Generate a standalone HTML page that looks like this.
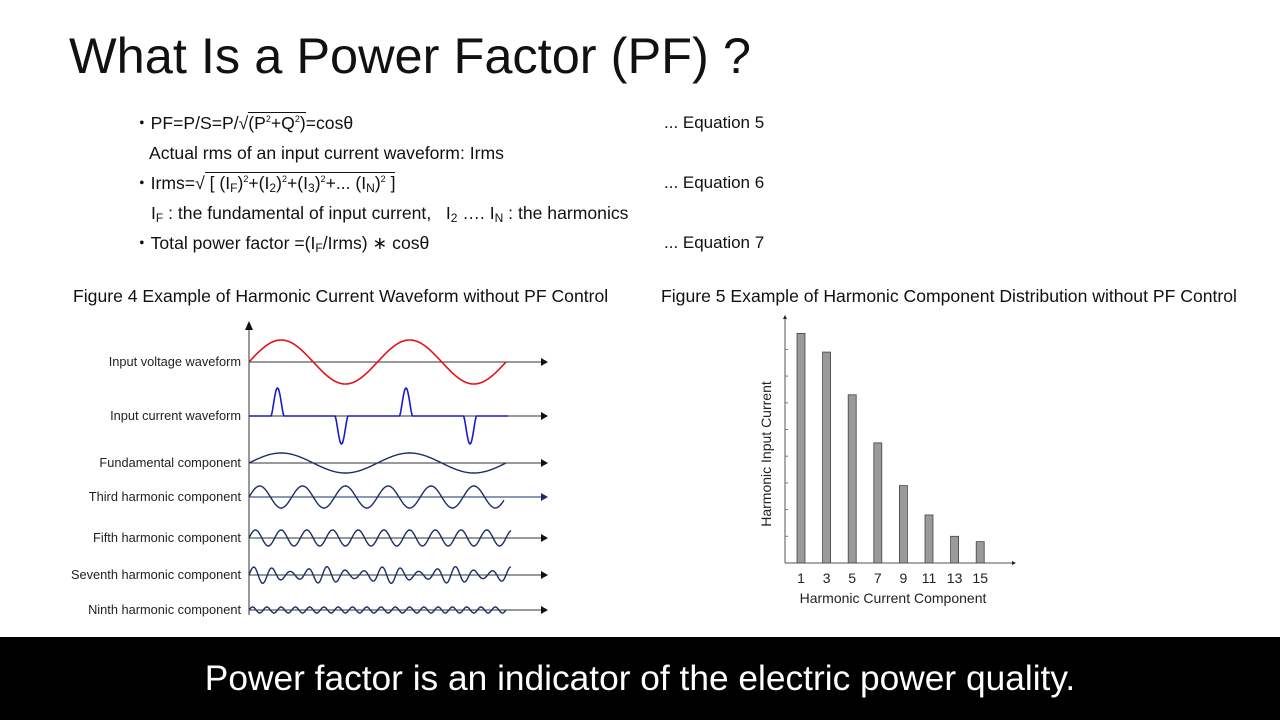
<!DOCTYPE html>
<html><head><meta charset="utf-8"><style>
body{margin:0;width:1280px;height:720px;background:#fff;overflow:hidden;position:relative;font-family:"Liberation Sans",Arial,sans-serif;color:#111}
.t{position:absolute;white-space:nowrap}
.eq{font-size:17.6px;line-height:20px;height:20px}
sub{font-size:12px;vertical-align:-3px;line-height:0}
sup{font-size:9px;vertical-align:7px;line-height:0}
.ov{border-top:1px solid #111}
</style></head><body>
<div class="t" style="left:69px;top:26px;font-size:50.5px;">What Is a Power Factor (PF) ?</div>

<div class="t eq" style="left:133px;top:113px;">・PF=P/S=P/√<span class="ov">(P<sup>2</sup>+Q<sup>2</sup>)</span>=cosθ</div>
<div class="t eq" style="left:664px;top:113px;font-size:17px">... Equation 5</div>
<div class="t eq" style="left:149px;top:143px;">Actual rms of an input current waveform: Irms</div>
<div class="t eq" style="left:133px;top:173px;">・Irms=√<span class="ov"> [ (I<sub>F</sub>)<sup>2</sup>+(I<sub>2</sub>)<sup>2</sup>+(I<sub>3</sub>)<sup>2</sup>+... (I<sub>N</sub>)<sup>2</sup> ]</span></div>
<div class="t eq" style="left:664px;top:173px;font-size:17px">... Equation 6</div>
<div class="t eq" style="left:151px;top:203px;">I<sub>F</sub> : the fundamental of input current, &nbsp; I<sub>2</sub> …. I<sub>N</sub> : the harmonics</div>
<div class="t eq" style="left:133px;top:233px;">・Total power factor =(I<sub>F</sub>/Irms) ∗ cosθ</div>
<div class="t eq" style="left:664px;top:233px;font-size:17px">... Equation 7</div>

<div class="t eq" style="left:73px;top:286px;">Figure 4 Example of Harmonic Current Waveform without PF Control</div>
<div class="t eq" style="left:661px;top:286px;">Figure 5 Example of Harmonic Component Distribution without PF Control</div>

<svg id="wf" style="position:absolute;left:0;top:0" width="640" height="636"></svg>
<svg id="bc" style="position:absolute;top:0;left:640px" width="640" height="636"></svg>

<div style="position:absolute;left:0;top:637px;width:1280px;height:83px;background:#000"></div>
<div class="t" style="left:0;width:1280px;text-align:center;top:659px;font-size:35.3px;color:#fff;">Power factor is an indicator of the electric power quality.</div>

<script>
const NS="http://www.w3.org/2000/svg";
// Waveform chart data
const rowLabels=["Input voltage waveform","Input current waveform","Fundamental component","Third harmonic component","Fifth harmonic component","Seventh harmonic component","Ninth harmonic component"];
const rowOrders=[1,0,1,3,5,7,9];
const rowAmps=[22,28,10,11,8,8,3];
const rowColors=["#e0141a","#1a1acc","#1a2f66","#1a2f66","#1a2f66","#1a2f66","#1a2f66"];
const rowBase=[362,416,463,497,538,575,610];
const rowEnd=[506,508,506,504,511,511,506];
// Bar chart data
const barCats=["1","3","5","7","9","11","13","15"];
const barVals=[8.6,7.9,6.3,4.5,2.9,1.8,1.0,0.8];

function mk(p,tag,at){const e=document.createElementNS(NS,tag);for(const k in at)e.setAttribute(k,at[k]);p.appendChild(e);return e;}
const wf=document.getElementById('wf');
const X0=249,PER=128.5,AX1=548;
const yax=mk(wf,'line',{x1:X0,y1:615,x2:X0,y2:328,stroke:'#333','stroke-width':1});


mk(wf,'polygon',{points:`${X0-4},330 ${X0+4},330 ${X0},321`,fill:'#111'});
rowLabels.forEach((lab,i)=>{
  const b=rowBase[i];
  const ax=mk(wf,'line',{x1:X0,y1:b,x2:AX1-6,y2:b,stroke:i==3?'#1a2f66':'#333','stroke-width':1});
  
  
  mk(wf,'polygon',{points:`${AX1-7},${b-4} ${AX1-7},${b+4} ${AX1},${b}`,fill:i==3?'#1a2f66':'#111'});
  const t=mk(wf,'text',{x:241,y:b+4,'text-anchor':'end','font-size':12.8,fill:'#222','font-family':'Liberation Sans, sans-serif'});
  t.textContent=lab;
  
  
  let d='';
  const A=rowAmps[i],n=rowOrders[i];
  for(let x=X0;x<=rowEnd[i];x+=0.5){
    const ph=(x-X0)/PER*2*Math.PI;
    let y;
    if(n===0){
      const c=((x-X0)%PER+PER)%PER;
      const pulse=(c0,w)=>{const u=(c-c0)/w;return (u>=0&&u<=1)?Math.sin(Math.PI*u)**1.5:0;};
      y=b-A*pulse(22,13)+A*pulse(86,13);
    } else if(n===7){
      y=b-A*Math.sin(n*ph)*(0.75+0.3*Math.sin(ph*2+0.5));
    } else y=b-A*Math.sin(n*ph);
    d+=(d?'L':'M')+x.toFixed(1)+','+y.toFixed(1);
  }
  const p=mk(wf,'path',{d:d,fill:'none',stroke:rowColors[i],'stroke-width':i<2?1.6:1.4});
  
  
});

// Bar chart (svg offset 640)
const bc=document.getElementById('bc');
const BX0=785-640,BY0=563,BYT=316,UNIT=26.7,BXS=801-640,BSTEP=25.6,BW=8;
const yv=v=>BY0-v*UNIT, xv=i=>BXS+i*BSTEP;
mk(bc,'line',{x1:BX0,y1:BY0,x2:BX0,y2:BYT,stroke:'#555','stroke-width':1});
mk(bc,'line',{x1:BX0,y1:BY0,x2:1014-640,y2:BY0,stroke:'#555','stroke-width':1});
mk(bc,'polygon',{points:`${1012-640},${BY0-2} ${1012-640},${BY0+2} ${1016-640},${BY0}`,fill:'#222'});
mk(bc,'polygon',{points:`${BX0-2},${BYT+3} ${BX0+2},${BYT+3} ${BX0},${BYT-1}`,fill:'#222'});
for(let k=1;k<=8;k++){mk(bc,'line',{x1:BX0,y1:yv(k),x2:BX0+3,y2:yv(k),stroke:'#777','stroke-width':1});}
barCats.forEach((c,i)=>{
  const r=mk(bc,'rect',{x:xv(i)-BW/2,y:yv(barVals[i]),width:BW,height:BY0-yv(barVals[i]),fill:'#9a9a9a',stroke:'#444','stroke-width':0.8});
  
  
  const t=mk(bc,'text',{x:xv(i),y:583,'text-anchor':'middle','font-size':14,fill:'#222','font-family':'Liberation Sans, sans-serif'});
  t.textContent=c;
  
  
});
const xt=mk(bc,'text',{x:893-640,y:603,'text-anchor':'middle','font-size':14,fill:'#222','font-family':'Liberation Sans, sans-serif'});
xt.textContent='Harmonic Current Component';


const yt=mk(bc,'text',{x:0,y:0,transform:`translate(${771-640},454) rotate(-90)`,'text-anchor':'middle','font-size':14,fill:'#222','font-family':'Liberation Sans, sans-serif'});
yt.textContent='Harmonic Input Current';


</script>
</body></html>
